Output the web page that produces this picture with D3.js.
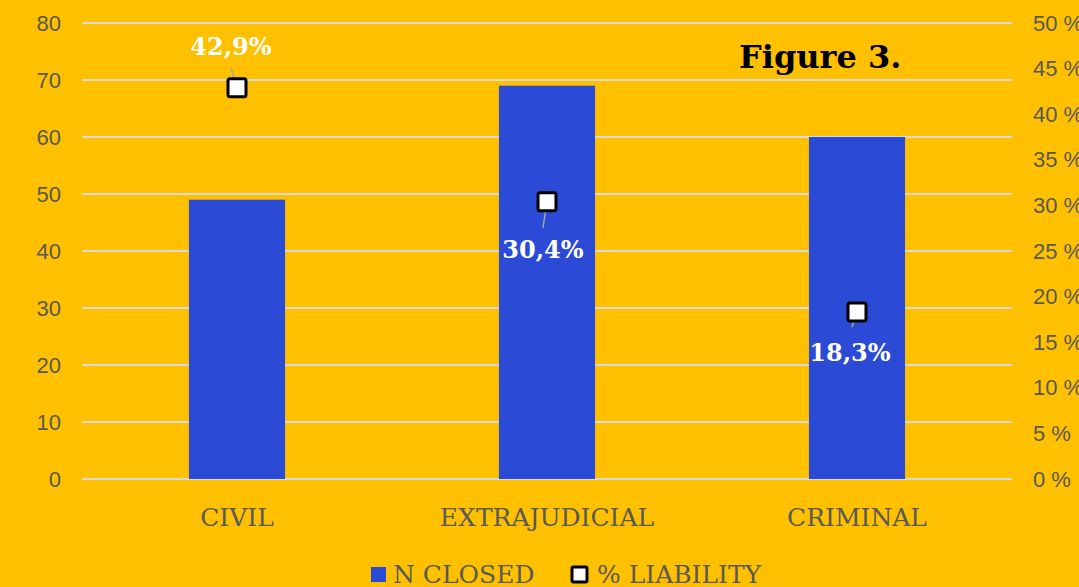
<!DOCTYPE html>
<meta charset="utf-8">
<style>
    body { margin: 0; background: #FFC000; }
    svg { display: block; }
    .grid line { stroke: #D9D9D9; stroke-width: 2; }
    .tick text { fill: #595959; font-family: "Liberation Sans", Arial, sans-serif; font-size: 22px; }
    .cat { fill: #595959; font-family: "DejaVu Serif", serif; font-size: 25px; }
    .lbl { fill: #fff; font-family: "DejaVu Serif", serif; font-weight: bold; font-size: 24px; }
</style>
<svg width="1079" height="587"></svg>
<script src="https://d3js.org/d3.v7.min.js"></script>
<script>

    // data
    var categories = ["CIVIL", "EXTRAJUDICIAL", "CRIMINAL"];
    var nClosed = [49, 69, 60];
    var liability = [42.9, 30.4, 18.3];
    var liabilityLabels = ["42,9%", "30,4%", "18,3%"];
    var leftTicks = [0, 10, 20, 30, 40, 50, 60, 70, 80];
    var rightTicks = [0, 5, 10, 15, 20, 25, 30, 35, 40, 45, 50];

    var svg = d3.select("svg"),
        margin = { top: 23, right: 67, bottom: 108, left: 82 },
        width = +svg.attr("width") - margin.left - margin.right,
        height = +svg.attr("height") - margin.top - margin.bottom,
        g = svg.append("g").attr("transform", "translate(" + margin.left + "," + margin.top + ")");

    svg.insert("rect", ":first-child")
        .attr("width", 1079).attr("height", 587).attr("fill", "#FFC000");

    var x = d3.scaleBand()
        .domain(categories)
        .range([0, width])
        .paddingInner(0.69)
        .paddingOuter(0.345);

    var y = d3.scaleLinear().domain([0, 80]).range([height, 0]);
    var y2 = d3.scaleLinear().domain([0, 50]).range([height, 0]);

    // gridlines
    g.append("g")
        .attr("class", "grid")
        .selectAll("line")
        .data(leftTicks)
        .join("line")
        .attr("x1", 0).attr("x2", width)
        .attr("y1", function (d) { return y(d); })
        .attr("y2", function (d) { return y(d); });

    // left axis
    var yAxis = g.append("g")
        .call(d3.axisLeft(y).tickValues(leftTicks).tickSize(0).tickPadding(21));
    yAxis.select(".domain").remove();

    // right axis
    var yAxis2 = g.append("g")
        .attr("transform", "translate(" + width + ",0)")
        .call(d3.axisRight(y2).tickValues(rightTicks).tickSize(0).tickPadding(21)
            .tickFormat(function (d) { return d + " %"; }));
    yAxis2.select(".domain").remove();

    // bars
    g.selectAll(".bar")
        .data(nClosed)
        .join("rect")
        .attr("class", "bar")
        .attr("x", function (d, i) { return x(categories[i]); })
        .attr("width", x.bandwidth())
        .attr("y", function (d) { return y(d); })
        .attr("height", function (d) { return height - y(d); })
        .attr("fill", "#2B4AD6");

    // category labels
    g.selectAll(".cat")
        .data(categories)
        .join("text")
        .attr("class", "cat")
        .attr("x", function (d) { return x(d) + x.bandwidth() / 2; })
        .attr("y", height + 47)
        .attr("text-anchor", "middle")
        .text(function (d) { return d; });

    // label offsets relative to marker
    var labelDx = [-6, -4, -7];
    var labelDy = [-41, 48, 40];
    var leadDx = [-6, -4, -5];
    var leadDy = [-20, 26, 15];

    var cx = function (i) { return x(categories[i]) + x.bandwidth() / 2; };

    // leader lines
    g.selectAll(".lead")
        .data(liability)
        .join("line")
        .attr("x1", function (d, i) { return cx(i); })
        .attr("y1", function (d) { return y2(d); })
        .attr("x2", function (d, i) { return cx(i) + leadDx[i]; })
        .attr("y2", function (d, i) { return y2(d) + leadDy[i]; })
        .attr("stroke", "#A6A6A6")
        .attr("stroke-width", 1.5);

    // markers
    g.selectAll(".mark")
        .data(liability)
        .join("rect")
        .attr("class", "mark")
        .attr("x", function (d, i) { return cx(i) - 9; })
        .attr("y", function (d) { return y2(d) - 9; })
        .attr("width", 18).attr("height", 18)
        .attr("rx", 2)
        .attr("fill", "#fff")
        .attr("stroke", "#000")
        .attr("stroke-width", 3);

    // value labels
    g.selectAll(".lbl")
        .data(liability)
        .join("text")
        .attr("class", "lbl")
        .attr("x", function (d, i) { return cx(i) + labelDx[i]; })
        .attr("y", function (d, i) { return y2(d) + labelDy[i]; })
        .attr("text-anchor", "middle")
        .attr("dominant-baseline", "central")
        .text(function (d, i) { return liabilityLabels[i]; });

    // title
    svg.append("text")
        .attr("x", 739).attr("y", 68)
        .attr("font-family", "DejaVu Serif, serif")
        .attr("font-weight", "bold")
        .attr("font-size", 32)
        .attr("fill", "#000")
        .text("Figure 3.");

    // legend
    var legend = svg.append("g").attr("transform", "translate(371,567)");
    legend.append("rect").attr("width", 15).attr("height", 15).attr("fill", "#2B4AD6");
    legend.append("text").attr("class", "cat").attr("x", 22).attr("y", 16).text("N CLOSED");
    legend.append("rect").attr("x", 201).attr("y", 0).attr("width", 15).attr("height", 15)
        .attr("rx", 1.5).attr("fill", "#fff").attr("stroke", "#000").attr("stroke-width", 3);
    legend.append("text").attr("class", "cat").attr("x", 226).attr("y", 16).text("% LIABILITY");

</script>
